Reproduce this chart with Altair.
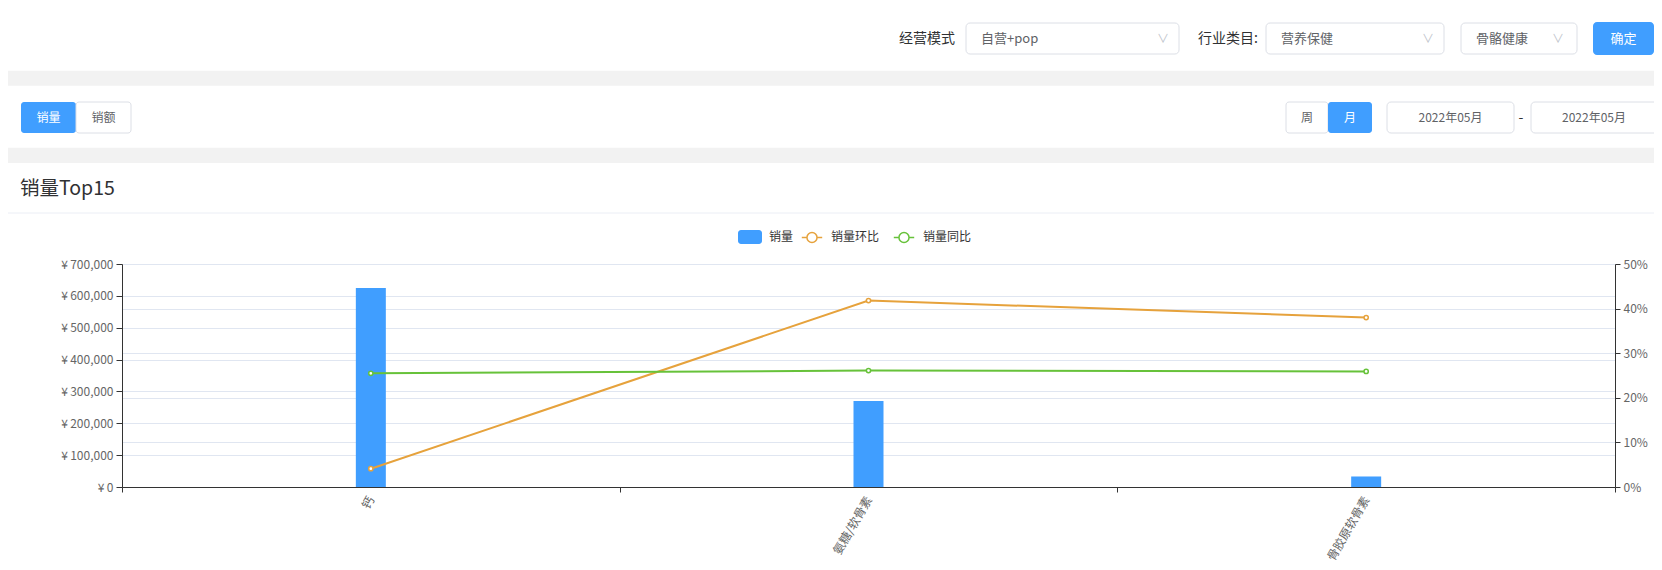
import altair as alt
import pandas as pd

# ---------------- data ----------------
categories = ["钙", "氨糖/软骨素", "骨胶原软骨素"]
sales = [625000, 270000, 33000]          # 销量 (left axis)
mom_pct = [4.1, 41.8, 38.0]              # 销量环比 (%)
yoy_pct = [25.5, 26.1, 25.9]             # 销量同比 (%)
bar_series = ["销量"]
bar_colors = ["#409EFF"]
line_series = ["销量环比", "销量同比"]
line_colors = ["#E6A23C", "#67C23A"]
left_ticks = [0, 100000, 200000, 300000, 400000, 500000, 600000, 700000]
right_ticks = [0, 10, 20, 30, 40, 50]

bar_df = pd.DataFrame({"category": categories, "value": sales, "series": bar_series * 3})
line_df = pd.DataFrame({
    "category": categories * 2,
    "pct": mom_pct + yoy_pct,
    "series": [line_series[0]] * 3 + [line_series[1]] * 3,
})
dummy = pd.DataFrame({"k": [0]})

FONT = "Noto Sans CJK SC"
W, H = 1493, 223
OX, OY = 122, 264   # page position of the plot origin (used for page chrome)

# ---------------- page chrome helpers ----------------
def box(x1, x2, y1, y2, fill="#ffffff", stroke=None, radius=0):
    kw = dict(fill=fill, cornerRadius=radius)
    if stroke:
        kw.update(stroke=stroke, strokeWidth=1)
    return alt.Chart(dummy).mark_rect(**kw).encode(
        x=alt.value(x1 - OX), x2=alt.value(x2 - OX),
        y=alt.value(y1 - OY), y2=alt.value(y2 - OY))

def label(x, y, text, size=12, color="#606266", align="left"):
    return alt.Chart(dummy).mark_text(
        text=text, font=FONT, fontSize=size, color=color, align=align,
        baseline="middle").encode(x=alt.value(x - OX), y=alt.value(y - OY))

BORDER = "#DCDFE6"
BLUE = "#409EFF"
GRAY = "#f2f2f2"
chrome = [
    # grey gaps between cards
    box(0, 1662, 70.7, 85.7, fill=GRAY),
    box(0, 1662, 147.7, 163, fill=GRAY),
    # card 1: filters
    label(955, 39, "经营模式", size=14, color="#303133", align="right"),
    box(966, 1179, 23, 54, stroke=BORDER, radius=4),
    label(981, 38.5, "自营+pop", size=13),
    label(1163, 38.5, "∨", size=12, color="#C0C4CC", align="center"),
    label(1258, 39, "行业类目:", size=14, color="#303133", align="right"),
    box(1266, 1444, 23, 54, stroke=BORDER, radius=4),
    label(1281, 38.5, "营养保健", size=13),
    label(1428, 38.5, "∨", size=12, color="#C0C4CC", align="center"),
    box(1461, 1577, 23, 54, stroke=BORDER, radius=4),
    label(1476, 38.5, "骨骼健康", size=13),
    label(1558, 38.5, "∨", size=12, color="#C0C4CC", align="center"),
    box(1593, 1654, 22, 55, fill=BLUE, radius=4),
    label(1623.5, 38.5, "确定", size=13, color="#ffffff", align="center"),
    # card 2: toggles and date range
    box(21, 76, 102, 133, fill=BLUE, radius=3),
    label(48.5, 117.5, "销量", size=12, color="#ffffff", align="center"),
    box(76, 131, 102, 133, stroke=BORDER, radius=3),
    label(103.5, 117.5, "销额", size=12, align="center"),
    box(1286, 1328, 102, 133, stroke=BORDER, radius=3),
    label(1307, 117.5, "周", size=12, align="center"),
    box(1328, 1372, 102, 133, fill=BLUE, radius=3),
    label(1350, 117.5, "月", size=12, color="#ffffff", align="center"),
    box(1387, 1514, 102, 133, stroke=BORDER, radius=4),
    label(1450.5, 117.5, "2022年05月", size=12, align="center"),
    label(1521, 118, "-", size=14, color="#303133", align="center"),
    box(1531, 1660, 102, 133, stroke=BORDER, radius=4),
    label(1594, 117.5, "2022年05月", size=12, align="center"),
    # card 3 header
    label(20, 189, "销量Top15", size=19.5, color="#303133"),
    alt.Chart(dummy).mark_rule(color="#EBEEF5", strokeWidth=1).encode(
        x=alt.value(0 - OX), x2=alt.value(1662 - OX), y=alt.value(213 - OY)),
]

# ---------------- legends ----------------
RECT_PATH = ("M-0.75,-0.58H0.75A0.25,0.25 0 0 1 1,-0.33V0.33A0.25,0.25 0 0 1 0.75,0.58"
             "H-0.75A0.25,0.25 0 0 1 -1,0.33V-0.33A0.25,0.25 0 0 1 -0.75,-0.58Z")
LINE_PATH = ("M-0.85,0H-0.42M0.42,0H0.85M-0.42,0A0.42,0.42 0 1 1 0.42,0"
             "A0.42,0.42 0 1 1 -0.42,0Z")
legend_common = dict(title=None, orient="none", direction="horizontal", symbolSize=576,
                     labelFont=FONT, labelFontSize=12, labelColor="#333333",
                     labelOffset=6, columnPadding=10, symbolStrokeWidth=1.5, symbolOpacity=1)
legend_bar = alt.Legend(legendX=615, legendY=-40, symbolType=RECT_PATH, **legend_common)
legend_line = alt.Legend(legendX=677, legendY=-40, symbolType=LINE_PATH,
                         symbolFillColor="#ffffff", **legend_common)

# ---------------- axes ----------------
axis_common = dict(domainColor="#333333", tickColor="#333333", labelColor="#666666",
                   labelFont=FONT, labelFontSize=12, title=None)
x_enc = alt.X("category:N", sort=categories,
              scale=alt.Scale(paddingInner=0, paddingOuter=0),
              axis=alt.Axis(tickBand="extent", labelAngle=300, labelAlign="right",
                            labelBaseline="middle", labelPadding=5, tickSize=5,
                            labelOverlap=False, grid=False, **axis_common))

bars = alt.Chart(bar_df).mark_bar(size=30).encode(
    x=x_enc,
    y=alt.Y("value:Q", scale=alt.Scale(domain=[0, 700000]),
            axis=alt.Axis(orient="left", values=left_ticks,
                          labelExpr="'¥\u2009' + format(datum.value, ',')",
                          grid=True, gridColor="#E0E6F1", tickSize=6, labelPadding=3,
                          **axis_common)),
    fill=alt.Fill("series:N", scale=alt.Scale(domain=bar_series, range=bar_colors), legend=legend_bar),
)

y_right = alt.Y("pct:Q", scale=alt.Scale(domain=[0, 50]),
                axis=alt.Axis(orient="right", values=right_ticks,
                              labelExpr="datum.value + '%'",
                              grid=True, gridColor="#E0E6F1", tickSize=5, labelPadding=3,
                              **axis_common))
stroke_enc = alt.Stroke("series:N", scale=alt.Scale(domain=line_series, range=line_colors),
                        legend=legend_line)
lines = alt.Chart(line_df).mark_line(strokeWidth=2).encode(x=x_enc, y=y_right, stroke=stroke_enc)
points = alt.Chart(line_df).mark_point(filled=False, fill="#ffffff", fillOpacity=1, opacity=1,
                                       size=18, strokeWidth=1.5).encode(
    x=x_enc, y=y_right, stroke=stroke_enc)

chart = alt.layer(*chrome, bars, alt.layer(lines, points)).resolve_scale(y="independent").properties(
    width=W, height=H,
    autosize=alt.AutoSizeParams(type="none"),
    padding={"left": 114, "top": 256, "right": 39, "bottom": 75},
    background="#ffffff",
).configure_view(stroke=None).configure(font=FONT)

chart.save("out.html", embed_options={"renderer": "svg", "actions": False})
